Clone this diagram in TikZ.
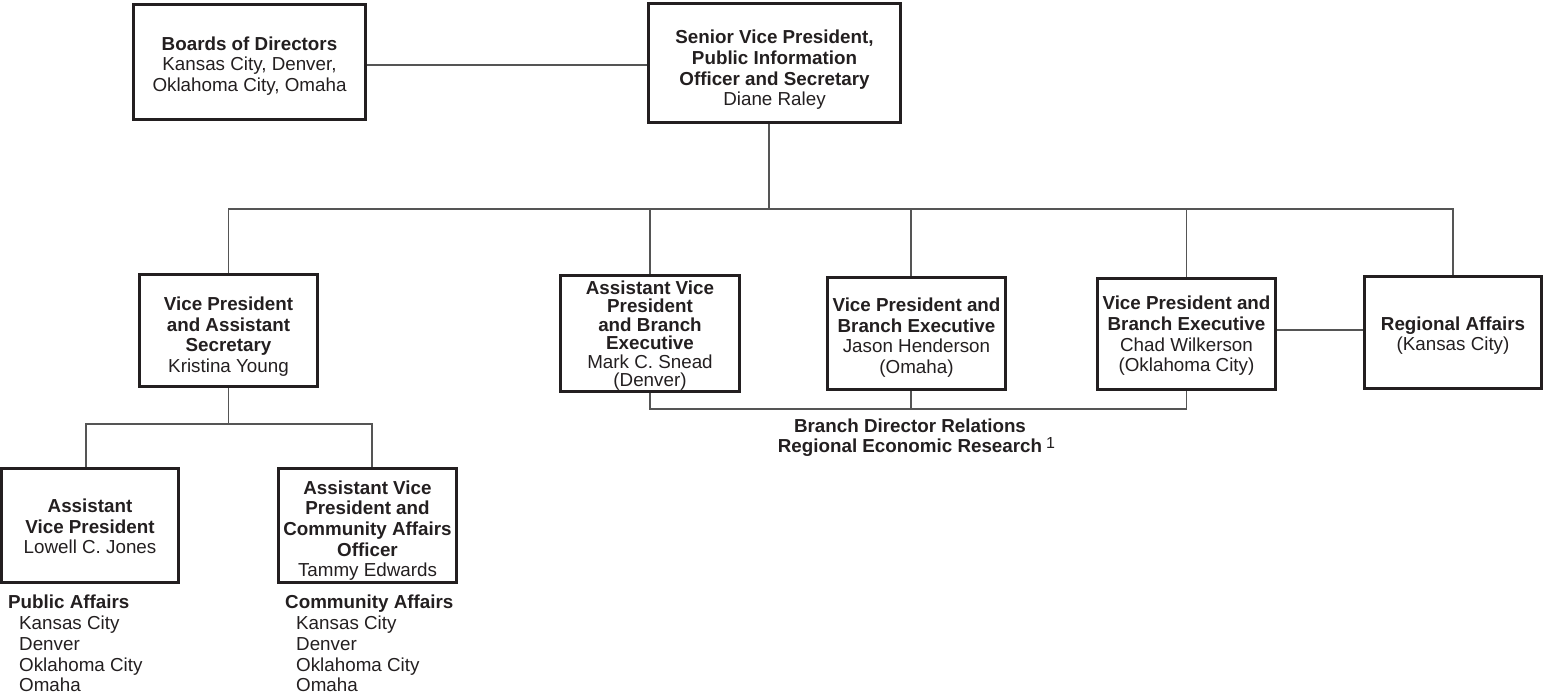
\documentclass[tikz,border=0pt]{standalone}
\usepackage{fontspec}
\setmainfont{Liberation Sans}
\definecolor{txt}{HTML}{231F20}
\definecolor{boxc}{HTML}{231F20}
\definecolor{linec}{HTML}{555555}
\newcommand{\tdown}[1]{\rule{0pt}{\dimexpr 13.7pt+#1pt*2\relax}}
\begin{document}
\begin{tikzpicture}[x=1pt,y=-1pt,
  box/.style={draw=boxc, line width=2.6pt, align=center, inner sep=1pt, text=txt,
    font=\fontsize{18.8}{20.7}\selectfont},
  conn/.style={draw=linec, line width=1.4pt},
  lbl/.style={text=txt, inner sep=0pt, anchor=base, font=\fontsize{18.8}{20.7}\selectfont}]
\useasboundingbox (0,0) rectangle (1543,698);

% boxes
\node[box, minimum width=232pt, minimum height=115pt] (boards) at (249.5,62)
  {\tdown{4}\textbf{Boards of Directors}\\Kansas City, Denver,\\Oklahoma City, Omaha};
\node[box, minimum width=252pt, minimum height=119pt] (svp) at (774.5,63)
  {\tdown{7}\textbf{Senior Vice President,}\\\textbf{Public Information}\\\textbf{Officer and Secretary}\\Diane Raley};
\node[box, minimum width=178pt, minimum height=112pt] (vpas) at (228.5,330.5)
  {\tdown{6}\textbf{Vice President}\\\textbf{and Assistant}\\\textbf{Secretary}\\Kristina Young};
\node[box, minimum width=179pt, minimum height=114pt, font=\fontsize{18.8}{18.4}\selectfont] (mark) at (650,333.5)
  {\tdown{2}\textbf{Assistant Vice}\\\textbf{President}\\\textbf{and Branch}\\\textbf{Executive}\\Mark C. Snead\\(Denver)};
\node[box, minimum width=178pt, minimum height=112pt] (jason) at (916.5,333.5)
  {\tdown{4}\textbf{Vice President and}\\\textbf{Branch Executive}\\Jason Henderson\\(Omaha)};
\node[box, minimum width=178pt, minimum height=111pt] (chad) at (1186.5,334)
  {\tdown{2}\textbf{Vice President and}\\\textbf{Branch Executive}\\Chad Wilkerson\\(Oklahoma City)};
\node[box, minimum width=177pt, minimum height=112pt] (reg) at (1453,332.5)
  {\tdown{3}\textbf{Regional Affairs}\\(Kansas City)};
\node[box, minimum width=177pt, minimum height=114pt] (asstvp) at (90,525.5)
  {\tdown{1}\textbf{Assistant}\\\textbf{Vice President}\\Lowell C. Jones};
\node[box, minimum width=178pt, minimum height=114pt] (avpc) at (367.5,525.5)
  {\tdown{5}\textbf{Assistant Vice}\\\textbf{President and}\\\textbf{Community Affairs}\\\textbf{Officer}\\Tammy Edwards};

% bus levels
\coordinate (busy) at (0,209);
\coordinate (bby) at (0,409);
\coordinate (sby) at (0,424);

% connectors
\draw[conn] ([yshift=-3pt]boards.east) -- ([yshift=-3pt]boards.east -| svp.west);
\draw[conn] ([xshift=-5.5pt]svp.south) -- ([xshift=-5.5pt]svp.south |- busy);
\draw[conn] (vpas.north) -- (vpas.north |- busy) -- (reg.north |- busy) -- (reg.north);
\draw[conn] (mark.north) -- (mark.north |- busy);
\draw[conn] ([xshift=-5.5pt]jason.north) -- ([xshift=-5.5pt]jason.north |- busy);
\draw[conn] (chad.north) -- (chad.north |- busy);
\draw[conn] (mark.south) -- (mark.south |- bby) -- (chad.south |- bby) -- (chad.south);
\draw[conn] ([xshift=-5.5pt]jason.south) -- ([xshift=-5.5pt]jason.south |- bby);
\draw[conn] ([yshift=4pt]chad.east) -- ([yshift=4pt]chad.east -| reg.west);
\draw[conn] (vpas.south) -- (vpas.south |- sby);
\draw[conn] ([xshift=-4pt]asstvp.north) -- ([xshift=-4pt]asstvp.north |- sby)
  -- ([xshift=4.5pt]avpc.north |- sby) -- ([xshift=4.5pt]avpc.north);

% branch labels
\node[lbl] (bdr) at (910,432) {\textbf{Branch Director Relations}};
\node[lbl] (rer) at (910,452) {\textbf{Regional Economic Research}\rlap{\hspace{4pt}\raisebox{4pt}{\fontsize{16}{16}\selectfont 1}}};

% lists
\node[lbl, anchor=base west] (pa) at (8,608) {\textbf{Public Affairs}};
\node[lbl, anchor=base west] (pa1) at (19,629) {Kansas City};
\node[lbl, anchor=base west] (pa2) at (19,650) {Denver};
\node[lbl, anchor=base west] (pa3) at (19,671) {Oklahoma City};
\node[lbl, anchor=base west] (pa4) at (19,691) {Omaha};
\node[lbl, anchor=base west] (ca) at (285,608) {\textbf{Community Affairs}};
\node[lbl, anchor=base west] (ca1) at (296,629) {Kansas City};
\node[lbl, anchor=base west] (ca2) at (296,650) {Denver};
\node[lbl, anchor=base west] (ca3) at (296,671) {Oklahoma City};
\node[lbl, anchor=base west] (ca4) at (296,691) {Omaha};
\end{tikzpicture}
\end{document}
